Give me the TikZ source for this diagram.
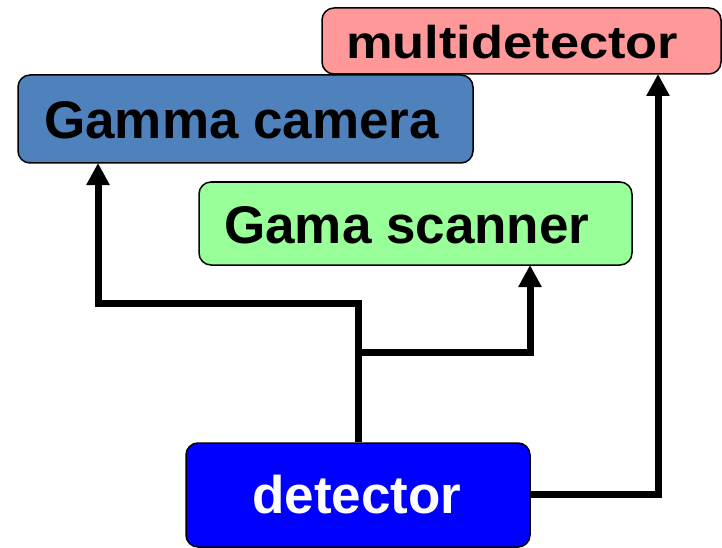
\documentclass[tikz,border=0pt]{standalone}
\usepackage{fontspec}
\setmainfont{Liberation Sans}
\usetikzlibrary{arrows.meta}
\definecolor{camblue}{HTML}{4F81BD}
\definecolor{scangreen}{HTML}{99FF99}
\definecolor{multired}{HTML}{FF9999}
\definecolor{detblue}{HTML}{0000FF}
\tikzset{
  box/.style={draw=black, line width=1.5pt, rounded corners=12pt, inner sep=0pt},
  lbl/.style={font=\fontsize{53}{60}\selectfont\bfseries, inner sep=0pt},
  conn/.style={line width=7pt, draw=black},
  arr/.style={conn, -{Triangle[width=22pt,length=22pt]}}
}
\begin{document}
\begin{tikzpicture}[x=1pt,y=-1pt]
\useasboundingbox (0,0) rectangle (722,548);
% boxes
\node[box, fill=multired, minimum width=399pt, minimum height=66pt] (multi) at (521.5,41) {};
\node[box, fill=camblue, minimum width=455pt, minimum height=88pt] (cam) at (245.5,119) {};
\node[box, fill=scangreen, minimum width=433pt, minimum height=83pt] (scan) at (415.5,223.5) {};
\node[box, fill=detblue, minimum width=344pt, minimum height=104pt] (det) at (358,495) {};
% labels
\node[lbl, anchor=base west] (multiL) at (346,59) {\scalebox{1.14}[1]{\fontsize{46}{52}\selectfont multidetector}};
\node[lbl, anchor=base west] (camL) at (44,139) {Gamma camera};
\node[lbl, anchor=base west] (scanL) at (224,243) {Gama scanner};
\node[lbl, anchor=base, text=white] (detL) at (357,513) {detector};
% junctions and arrow entry points
\coordinate (jA) at (358,303);
\coordinate (jB) at (358,352);
\coordinate (camIn) at (98,163);
\coordinate (scanIn) at (530,265);
\coordinate (multiIn) at (658,74);
\coordinate (detOut) at (530,494);
% connectors
\draw[arr] (det.north) -- (jA) -| (camIn);
\draw[arr] (jB) -| (scanIn);
\draw[arr] (detOut) -| (multiIn);
\end{tikzpicture}
\end{document}
